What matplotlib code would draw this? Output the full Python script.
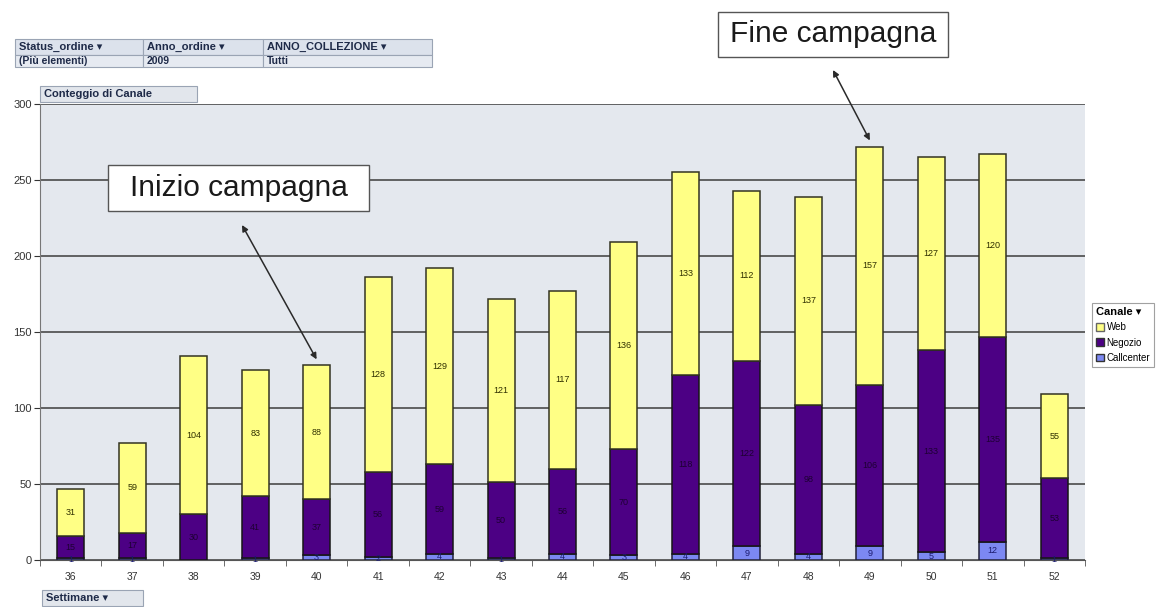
import numpy as np
import matplotlib
matplotlib.use('Agg')
import matplotlib.pyplot as plt
from matplotlib.patches import Rectangle, Patch

plt.rcParams['font.family'] = ['Liberation Sans', 'DejaVu Sans']

# Ordini per settimana e canale
settimane = ['36', '37', '38', '39', '40', '41', '42', '43', '44',
             '45', '46', '47', '48', '49', '50', '51', '52']
callcenter = [1, 1, 0, 1, 3, 2, 4, 1, 4, 3, 4, 9, 4, 9, 5, 12, 1]
negozio = [15, 17, 30, 41, 37, 56, 59, 50, 56, 70, 118, 122, 98, 106, 133, 135, 53]
web = [31, 59, 104, 83, 88, 128, 129, 121, 117, 136, 133, 112, 137, 157, 127, 120, 55]

filtri_nomi = ['Status_ordine', 'Anno_ordine', 'ANNO_COLLEZIONE']
filtri_valori = ['(Più elementi)', '2009', 'Tutti']

W, H = 1171, 607
fig = plt.figure(figsize=(W / 100, H / 100), dpi=100)


def fx(x):
    return x / W


def fy(y):
    return 1 - y / H


ax = fig.add_axes([fx(40), fy(560), fx(1085) - fx(40), fy(104) - fy(560)])
ax.set_facecolor('#E4E8EE')

x = np.arange(len(settimane))
cc = np.array(callcenter)
neg = np.array(negozio)
wb = np.array(web)

col_web = '#FFFF85'
col_neg = '#4C0084'
col_cc = '#7C88F2'
bw = 0.44
ax.bar(x, cc, bw, color=col_cc, edgecolor='#22223a', linewidth=1.1, zorder=3)
ax.bar(x, neg, bw, bottom=cc, color=col_neg, edgecolor='#161616', linewidth=1.1, zorder=3)
ax.bar(x, wb, bw, bottom=cc + neg, color=col_web, edgecolor='#333322', linewidth=1.1, zorder=3)

# etichette dei valori al centro di ogni segmento
for i in range(len(x)):
    if cc[i] > 0:
        ax.text(x[i], cc[i] / 2, str(cc[i]), ha='center', va='center',
                fontsize=6.5, color='#1c1c70', zorder=4)
    ax.text(x[i], cc[i] + neg[i] / 2, str(neg[i]), ha='center', va='center',
            fontsize=6.5, color='#1e0034', zorder=4)
    ax.text(x[i], cc[i] + neg[i] + wb[i] / 2, str(wb[i]), ha='center', va='center',
            fontsize=6.5, color='#303000', zorder=4)

ax.set_ylim(0, 300)
ax.set_xlim(-0.5, len(x) - 0.5)
ax.set_yticks(range(0, 301, 50))
ax.yaxis.grid(True, color='#3c3c3c', linewidth=1.1, zorder=1)
ax.set_axisbelow(True)
ax.set_xticks(x)
ax.set_xticklabels(settimane)
ax.set_xticks(np.arange(-0.5, len(x), 1), minor=True)
ax.tick_params(axis='x', which='major', length=0, labelsize=7.5, colors='#333333', pad=9)
ax.tick_params(axis='x', which='minor', length=4, color='#555555')
ax.tick_params(axis='y', length=4, labelsize=8, colors='#333333', pad=2)
for s in ['top', 'right']:
    ax.spines[s].set_visible(False)
ax.spines['left'].set_color('#777777')
ax.spines['bottom'].set_color('#555555')


def bottone(x0, y0, x1, y1, testo, bg, size=8):
    fig.add_artist(Rectangle((fx(x0), fy(y1)), fx(x1) - fx(x0), fy(y0) - fy(y1),
                             transform=fig.transFigure, facecolor=bg,
                             edgecolor='#9aa4b4', linewidth=0.8))
    fig.text(fx(x0 + 4), fy((y0 + y1) / 2), testo, ha='left', va='center',
             fontsize=size, fontweight='bold', color='#1e2a48')


# campi filtro della tabella pivot
bordi = [15, 143, 263, 432]
for j in range(3):
    bottone(bordi[j], 39, bordi[j + 1], 55, filtri_nomi[j] + ' ▾', '#DCE2EC')
    bottone(bordi[j], 55, bordi[j + 1], 67, filtri_valori[j], '#E6EAF1', size=7.5)

bottone(40, 86, 197, 102, 'Conteggio di Canale', '#E2E6EC')
bottone(42, 590, 143, 606, 'Settimane ▾', '#E2E6EC')

# legenda
handles = [Patch(facecolor=col_web, edgecolor='#666666', label='Web'),
           Patch(facecolor=col_neg, edgecolor='#333333', label='Negozio'),
           Patch(facecolor=col_cc, edgecolor='#333333', label='Callcenter')]
leg = fig.legend(handles=handles, loc='upper left',
                 bbox_to_anchor=(fx(1092), fy(303)), title='Canale ▾',
                 fontsize=7, title_fontproperties={'weight': 'bold', 'size': 8},
                 alignment='left', frameon=True, fancybox=False,
                 handlelength=0.8, handleheight=0.8, handletextpad=0.3,
                 labelspacing=0.55, borderpad=0.4, borderaxespad=0)
leg.get_frame().set_edgecolor('#8a8a8a')
leg.get_frame().set_linewidth(0.8)


def nota(x0, y0, x1, y1, testo, start, barra):
    fig.add_artist(Rectangle((fx(x0), fy(y1)), fx(x1) - fx(x0), fy(y0) - fy(y1),
                             transform=fig.transFigure, facecolor='white',
                             edgecolor='#555555', linewidth=1.0, zorder=5))
    fig.text(fx((x0 + x1) / 2), fy((y0 + y1) / 2), testo, ha='center', va='center',
             fontsize=21.5, color='#1a1a1a', zorder=6)
    top = cc[barra] + neg[barra] + wb[barra]
    ax.annotate('', xy=(x[barra], top + 4), xycoords='data',
                xytext=(fx(start[0]), fy(start[1])), textcoords='figure fraction',
                arrowprops=dict(arrowstyle='<|-|>', color='#2a2a2a', lw=1.1,
                                mutation_scale=9, shrinkA=0, shrinkB=0),
                annotation_clip=False, zorder=6)


nota(108, 165, 369, 211, 'Inizio campagna', (242, 225), 4)
nota(718, 12, 948, 57, 'Fine campagna', (833, 70), 13)

fig.savefig('out.png', dpi=100)
